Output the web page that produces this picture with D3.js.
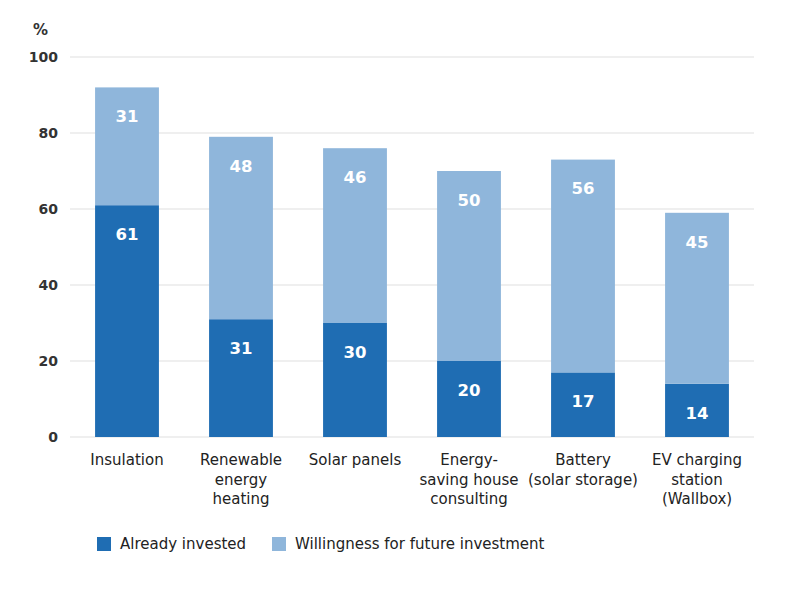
<!DOCTYPE html>
<html><head><meta charset="utf-8">
<script src="https://cdn.jsdelivr.net/npm/d3@7"></script>
<style>body{margin:0;background:#fff;}svg{display:block;font-family:"DejaVu Sans",sans-serif;}</style>
</head><body>
<svg id="c" width="800" height="590"></svg>
<script>
const categories = [["Insulation"],["Renewable","energy","heating"],["Solar panels"],["Energy-","saving house","consulting"],["Battery","(solar storage)"],["EV charging","station","(Wallbox)"]];
const alreadyInvested = [61,31,30,20,17,14];
const futureInvestment = [31,48,46,50,56,45];
const yTicks = [0,20,40,60,80,100];
const seriesNames = ["Already invested","Willingness for future investment"];
const colors = ["#1f6db3","#8fb6db"];

const svg = d3.select("#c");
const x = d3.scaleBand().domain(d3.range(categories.length)).range([70,754]).paddingInner(0.44).paddingOuter(0.22);
const y = d3.scaleLinear().domain([0,100]).range([437,57]);

svg.append("g").selectAll("line").data(yTicks).join("line")
  .attr("x1",70).attr("x2",754).attr("y1",d=>y(d)).attr("y2",d=>y(d))
  .attr("stroke","#e0e0e0").attr("stroke-width",1.2);
svg.append("g").selectAll("text").data(yTicks).join("text")
  .attr("x",58).attr("y",d=>y(d)).attr("dy","0.35em").attr("text-anchor","end")
  .attr("font-size",14).attr("font-weight",700).attr("fill","#333").text(d=>d);
svg.append("text").attr("x",48).attr("y",30).attr("dy","0.35em").attr("text-anchor","end")
  .attr("font-size",15).attr("font-weight",700).attr("fill","#333").text("%");

const stack = categories.map((c,i)=>({i, a:alreadyInvested[i], f:futureInvestment[i]}));
const g = svg.append("g");
g.selectAll("rect.a").data(stack).join("rect").attr("class","a")
  .attr("x",d=>x(d.i)).attr("width",x.bandwidth())
  .attr("y",d=>y(d.a)).attr("height",d=>y(0)-y(d.a)).attr("fill",colors[0]);
g.selectAll("rect.f").data(stack).join("rect").attr("class","f")
  .attr("x",d=>x(d.i)).attr("width",x.bandwidth())
  .attr("y",d=>y(d.a+d.f)).attr("height",d=>y(d.a)-y(d.a+d.f)).attr("fill",colors[1]);
g.selectAll("text.la").data(stack).join("text").attr("class","la")
  .attr("x",d=>x(d.i)+x.bandwidth()/2).attr("y",d=>y(d.a)+29).attr("dy","0.35em")
  .attr("text-anchor","middle").attr("fill","#fff").attr("font-size",16.5).attr("font-weight",700).text(d=>d.a);
g.selectAll("text.lf").data(stack).join("text").attr("class","lf")
  .attr("x",d=>x(d.i)+x.bandwidth()/2).attr("y",d=>y(d.a+d.f)+29).attr("dy","0.35em")
  .attr("text-anchor","middle").attr("fill","#fff").attr("font-size",16.5).attr("font-weight",700).text(d=>d.f);

const cl = svg.append("g").selectAll("text").data(categories).join("text")
  .attr("x",(d,i)=>x(i)+x.bandwidth()/2).attr("y",460)
  .attr("text-anchor","middle").attr("font-size",15).attr("fill","#222");
cl.selectAll("tspan").data(d=>d).join("tspan")
  .attr("x",function(){return this.parentNode.getAttribute("x");})
  .attr("dy",(d,j)=>j===0?"0.35em":"19.5px").text(d=>d);

const legX = [97,272];
const lg = svg.append("g").selectAll("g").data(seriesNames).join("g")
  .attr("transform",(d,i)=>`translate(${legX[i]},537)`);
lg.append("rect").attr("width",14).attr("height",14).attr("fill",(d,i)=>colors[i]);
lg.append("text").attr("x",23).attr("y",7).attr("dy","0.35em").attr("font-size",15).attr("fill","#222").text(d=>d);
</script>
</body></html>
